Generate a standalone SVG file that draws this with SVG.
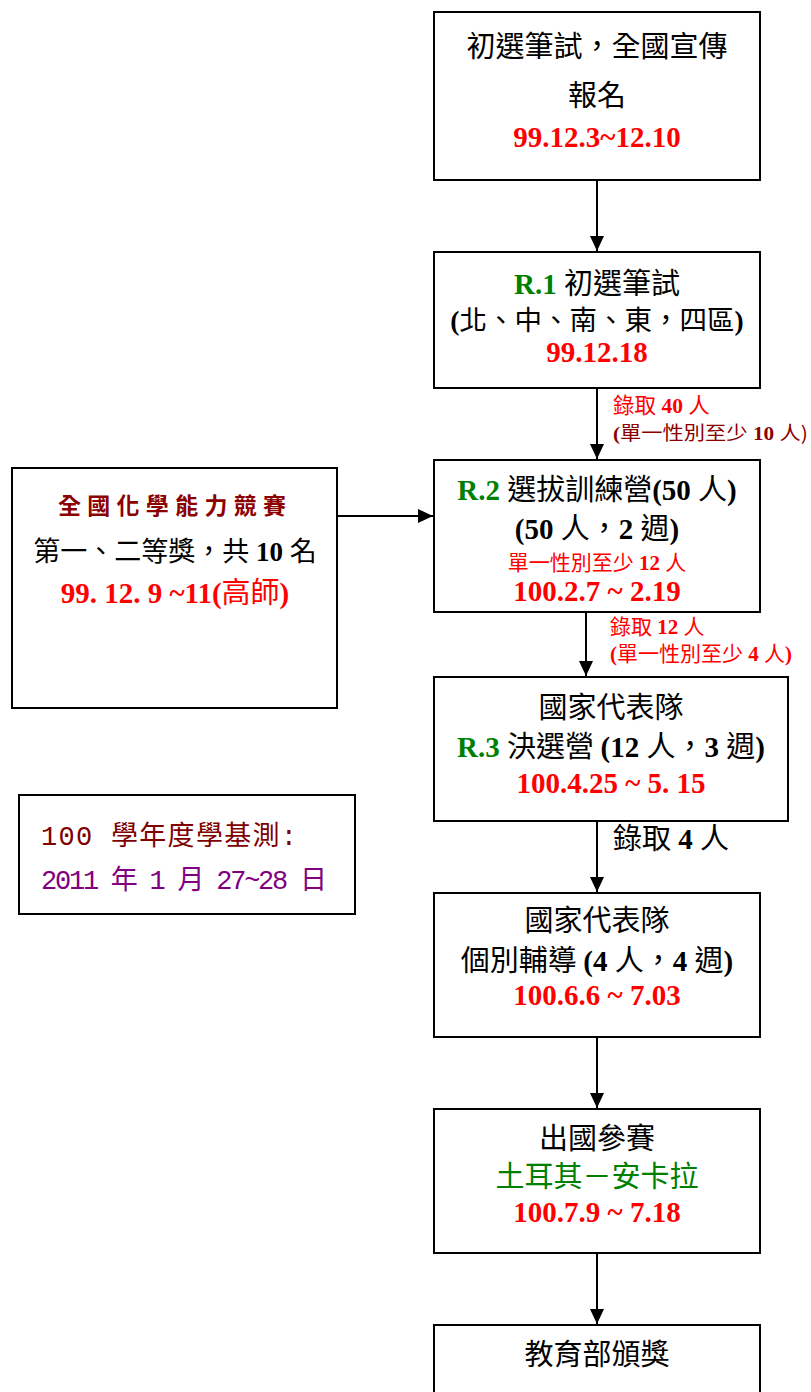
<svg xmlns="http://www.w3.org/2000/svg" width="811" height="1392" viewBox="0 0 811 1392">
<style>
.box{fill:#fff;stroke:#000;stroke-width:2}
.con{stroke:#000;stroke-width:2;fill:none}
text{font-family:"Liberation Serif","Noto Sans CJK TC",serif;text-anchor:middle}
.cjk{font-family:"Noto Sans CJK TC","Liberation Sans",sans-serif;font-weight:normal}
.lat{font-family:"Liberation Serif","Noto Sans CJK TC",serif;font-weight:bold}
.t28{font-size:29px;fill:#000}
.d{font-size:29px;fill:#f00;font-weight:bold}
.g{fill:#008000}
.r{fill:#f00}
.lbl{text-anchor:start}
</style>
<defs>
<marker id="ah" markerUnits="userSpaceOnUse" markerWidth="16" markerHeight="16" viewBox="0 0 16 16" refX="15" refY="8" orient="auto">
<path d="M0,1 L15,8 L0,15 Z" fill="#000"/>
</marker>
</defs>
<g id="connectors">
<line class="con" x1="597" y1="180" x2="597" y2="251" marker-end="url(#ah)"/>
<line class="con" x1="597" y1="388" x2="597" y2="459" marker-end="url(#ah)"/>
<line class="con" x1="586" y1="612" x2="586" y2="676" marker-end="url(#ah)"/>
<line class="con" x1="597" y1="821" x2="597" y2="892" marker-end="url(#ah)"/>
<line class="con" x1="597" y1="1037" x2="597" y2="1108" marker-end="url(#ah)"/>
<line class="con" x1="597" y1="1253" x2="597" y2="1324" marker-end="url(#ah)"/>
<line class="con" x1="337" y1="516" x2="433" y2="516" marker-end="url(#ah)"/>
<text class="lbl" x="613" y="413" style="font-size:21.5px"><tspan class="cjk r">錄取</tspan><tspan class="lat r"> 40 </tspan><tspan class="cjk r">人</tspan></text>
<text class="lbl" x="613" y="440" style="font-size:19px" textLength="195" lengthAdjust="spacingAndGlyphs"><tspan class="lat" fill="#8b0000">(</tspan><tspan class="cjk" fill="#8b0000" font-weight="bold">單一性別至少</tspan><tspan class="lat" fill="#8b0000"> 10 </tspan><tspan class="cjk" fill="#8b0000" font-weight="bold">人)</tspan></text>
<text class="lbl" x="610" y="634" style="font-size:21px"><tspan class="cjk r">錄取</tspan><tspan class="lat r"> 12 </tspan><tspan class="cjk r">人</tspan></text>
<text class="lbl" x="610" y="661" style="font-size:21px"><tspan class="lat r">(</tspan><tspan class="cjk r">單一性別至少</tspan><tspan class="lat r"> 4 </tspan><tspan class="cjk r">人</tspan><tspan class="lat r">)</tspan></text>
<text class="lbl" x="613" y="849" style="font-size:29px"><tspan class="cjk">錄取</tspan><tspan class="lat"> 4 </tspan><tspan class="cjk">人</tspan></text>
</g>
<g id="n1">
<rect class="box" x="434" y="12" width="326" height="168"/>
<text class="t28 cjk" x="597" y="57">初選筆試，全國宣傳</text>
<text class="t28 cjk" x="597" y="106">報名</text>
<text class="d" x="597" y="147">99.12.3~12.10</text>
</g>
<g id="n2">
<rect class="box" x="434" y="252" width="326" height="136"/>
<text class="t28" x="597" y="294"><tspan class="lat g">R.1 </tspan><tspan class="cjk">初選筆試</tspan></text>
<text x="597" y="330" style="font-size:27.5px"><tspan class="lat">(</tspan><tspan class="cjk">北、中、南、東，四區</tspan><tspan class="lat">)</tspan></text>
<text class="d" x="597" y="362">99.12.18</text>
</g>
<g id="n3">
<rect class="box" x="434" y="460" width="326" height="152"/>
<text class="t28" x="597" y="500"><tspan class="lat g">R.2 </tspan><tspan class="cjk">選拔訓練營</tspan><tspan class="lat">(50 </tspan><tspan class="cjk">人</tspan><tspan class="lat">)</tspan></text>
<text class="t28" x="597" y="539"><tspan class="lat">(50 </tspan><tspan class="cjk">人，</tspan><tspan class="lat">2 </tspan><tspan class="cjk">週</tspan><tspan class="lat">)</tspan></text>
<text x="597" y="570" style="font-size:21px"><tspan class="cjk r">單一性別至少</tspan><tspan class="lat r"> 12 </tspan><tspan class="cjk r">人</tspan></text>
<text class="d" x="597" y="601">100.2.7 ~ 2.19</text>
</g>
<g id="n4">
<rect class="box" x="434" y="677" width="354" height="144"/>
<text class="t28 cjk" x="611" y="718">國家代表隊</text>
<text class="t28" x="611" y="757"><tspan class="lat g">R.3 </tspan><tspan class="cjk">決選營 </tspan><tspan class="lat">(12 </tspan><tspan class="cjk">人，</tspan><tspan class="lat">3 </tspan><tspan class="cjk">週</tspan><tspan class="lat">)</tspan></text>
<text class="d" x="611" y="793">100.4.25 ~ 5. 15</text>
</g>
<g id="n5">
<rect class="box" x="434" y="893" width="326" height="144"/>
<text class="t28 cjk" x="597" y="931">國家代表隊</text>
<text class="t28" x="597" y="971"><tspan class="cjk">個別輔導 </tspan><tspan class="lat">(4 </tspan><tspan class="cjk">人，</tspan><tspan class="lat">4 </tspan><tspan class="cjk">週</tspan><tspan class="lat">)</tspan></text>
<text class="d" x="597" y="1005">100.6.6 ~ 7.03</text>
</g>
<g id="n6">
<rect class="box" x="434" y="1109" width="326" height="144"/>
<text class="t28 cjk" x="597" y="1149">出國參賽</text>
<text class="t28 cjk g" x="597" y="1187">土耳其－安卡拉</text>
<text class="d" x="597" y="1222">100.7.9 ~ 7.18</text>
</g>
<g id="n7">
<rect class="box" x="434" y="1325" width="326" height="80"/>
<text class="t28 cjk" x="597" y="1365">教育部頒獎</text>
</g>
<g id="n8">
<rect class="box" x="12" y="468" width="325" height="240"/>
<text class="cjk" x="175" y="514" style="font-size:23px;font-weight:bold;fill:#8b0000;letter-spacing:6px" textLength="234">全國化學能力競賽</text>
<text x="175" y="561" style="font-size:27px"><tspan class="cjk">第一、二等獎，共</tspan><tspan class="lat"> 10 </tspan><tspan class="cjk">名</tspan></text>
<text x="175" y="603" style="font-size:29px"><tspan class="lat r">99. 12. 9 ~11(</tspan><tspan class="cjk r">高師</tspan><tspan class="lat r">)</tspan></text>
</g>
<g id="n9">
<rect class="box" x="19" y="795" width="336" height="119"/>
<text x="41" y="845" style="font-family:'Liberation Mono','Noto Sans CJK TC',monospace;font-size:27px;fill:#800000;text-anchor:start" textLength="256" lengthAdjust="spacing">100 學年度學基測:</text>
<text x="41" y="889" style="font-family:'Liberation Mono','Noto Sans CJK TC',monospace;font-size:27px;fill:#800080;text-anchor:start" textLength="286" lengthAdjust="spacing">2011 年 1 月 27~28 日</text>
</g>
</svg>
